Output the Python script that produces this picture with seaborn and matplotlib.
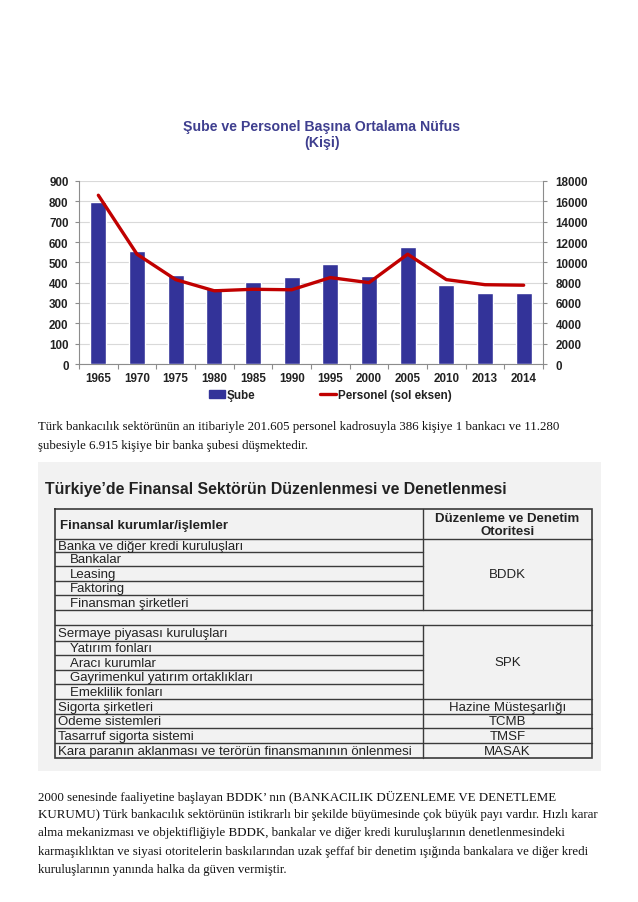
import numpy as np
import pandas as pd
import matplotlib
matplotlib.use("Agg")
import matplotlib.pyplot as plt
import seaborn as sns
from matplotlib.patches import Patch, Rectangle
from matplotlib.lines import Line2D
from matplotlib.ticker import FixedLocator

# ---------------- data ----------------
years = ['1965', '1970', '1975', '1980', '1985', '1990', '1995', '2000', '2005', '2010', '2013', '2014']
sube = [797, 558, 440, 375, 405, 430, 493, 432, 577, 390, 348, 347]
personel = [16600, 10800, 8300, 7200, 7350, 7300, 8500, 8000, 10800, 8300, 7800, 7750]

left_ticks = list(range(0, 901, 100))
right_ticks = list(range(0, 18001, 2000))

chart_title = "Şube ve Personel Başına Ortalama Nüfus\n(Kişi)"
legend_labels = ["Şube", "Personel (sol eksen)"]

para1 = ["Türk bankacılık sektörünün an itibariyle 201.605 personel kadrosuyla 386 kişiye 1 bankacı ve 11.280",
         "şubesiyle 6.915 kişiye bir banka şubesi düşmektedir."]
para2 = ["2000 senesinde faaliyetine başlayan BDDK’ nın (BANKACILIK DÜZENLEME VE DENETLEME",
         "KURUMU) Türk bankacılık sektörünün istikrarlı bir şekilde büyümesinde çok büyük payı vardır. Hızlı karar",
         "alma mekanizması ve objektifliğiyle BDDK, bankalar ve diğer kredi kuruluşlarının denetlenmesindeki",
         "karmaşıklıktan ve siyasi otoritelerin baskılarından uzak şeffaf bir denetim ışığında bankalara ve diğer kredi",
         "kuruluşlarının yanında halka da güven vermiştir."]

table_title = "Türkiye’de Finansal Sektörün Düzenlenmesi ve Denetlenmesi"
table_head = ["Finansal kurumlar/işlemler", "Düzenleme ve Denetim\nOtoritesi"]
table_rows = ["Banka ve diğer kredi kuruluşları", "Bankalar", "Leasing", "Faktoring", "Finansman şirketleri",
              "", "Sermaye piyasası kuruluşları", "Yatırım fonları", "Aracı kurumlar",
              "Gayrimenkul yatırım ortaklıkları", "Emeklilik fonları", "Sigorta şirketleri",
              "Ödeme sistemleri", "Tasarruf sigorta sistemi",
              "Kara paranın aklanması ve terörün finansmanının önlenmesi"]
table_indent = [0, 1, 1, 1, 1, 0, 0, 1, 1, 1, 1, 0, 0, 0, 0]
# authority: (label, first row, last row)
authorities = [("BDDK", 0, 4), ("SPK", 6, 10), ("Hazine Müsteşarlığı", 11, 11),
               ("TCMB", 12, 12), ("TMSF", 13, 13), ("MASAK", 14, 14)]

# ---------------- figure ----------------
W, H = 638, 903
sns.set_theme(style="white")
plt.rcParams['font.family'] = ['Liberation Sans', 'DejaVu Sans']
fig = plt.figure(figsize=(W / 100, H / 100), dpi=100)
fig.patch.set_facecolor("white")

# page layer (pixel coordinates)
page = fig.add_axes([0, 0, 1, 1], zorder=0)
page.set_xlim(0, W)
page.set_ylim(H, 0)
page.axis("off")

# ---------------- chart ----------------
L, R, T, B = 79, 543, 182, 365
ax = fig.add_axes([L / W, 1 - B / H, (R - L) / W, (B - T) / H], zorder=2)
ax.set_facecolor("none")
df = pd.DataFrame({"Yıl": years, "Şube": sube, "Personel": personel})
bar_col = "#333399"
line_col = "#c00000"
sns.barplot(data=df, x="Yıl", y="Şube", color=bar_col, saturation=1, width=0.41, ax=ax, zorder=3)
ax2 = ax.twinx()
sns.lineplot(data=df, x="Yıl", y="Personel", color=line_col, lw=2.4, ax=ax2, sort=False)

ax.set_xlim(-0.5, len(years) - 0.5)
ax.set_ylim(0, 900)
ax.set_yticks(left_ticks)
ax2.set_ylim(0, 18000)
ax2.set_yticks(right_ticks)
ax.set_xlabel("")
ax.set_ylabel("")
ax2.set_xlabel("")
ax2.set_ylabel("")
ax.yaxis.grid(True, color="#d9d9d9", lw=0.8)
ax.set_axisbelow(True)
spine_col = "#8c8c8c"
for a in (ax, ax2):
    a.spines["top"].set_visible(False)
ax.spines["right"].set_visible(False)
ax2.spines["left"].set_visible(False)
ax2.spines["bottom"].set_visible(False)
ax.spines["left"].set_color(spine_col)
ax.spines["bottom"].set_color(spine_col)
ax2.spines["right"].set_color(spine_col)
for s in (ax.spines["left"], ax.spines["bottom"], ax2.spines["right"]):
    s.set_linewidth(0.8)

fs_tick = 8.4
ax.xaxis.set_minor_locator(FixedLocator(np.arange(-0.5, len(years), 1.0)))
ax.tick_params(axis="x", which="major", length=0, pad=6, labelsize=fs_tick, labelcolor="#222222")
ax.tick_params(axis="x", which="minor", bottom=True, length=3.5, width=0.8, color=spine_col, direction="out")
ax.tick_params(axis="y", left=True, length=3, width=0.8, color=spine_col, pad=4.5, labelsize=fs_tick,
               labelcolor="#222222")
ax2.tick_params(axis="y", right=True, length=3, width=0.8, color=spine_col, pad=6, labelsize=fs_tick,
                labelcolor="#222222")
for lab in ax.get_xticklabels() + ax.get_yticklabels() + ax2.get_yticklabels():
    lab.set_fontweight("bold")

handles = [Patch(facecolor=bar_col, edgecolor=bar_col),
           Line2D([0], [0], color=line_col, lw=2.4)]
leg = ax.legend(handles, legend_labels, loc="center", ncol=2, frameon=False,
                bbox_to_anchor=(330 / W, 1 - 396 / H), bbox_transform=fig.transFigure,
                prop={"weight": "bold", "size": fs_tick}, columnspacing=5.5, handlelength=1.4,
                handletextpad=0.15, handleheight=0.7)
for t in leg.get_texts():
    t.set_color("#222222")

fig.text(322 / W, 1 - 135 / H, chart_title, ha="center", va="center", fontsize=10.2,
         fontweight="bold", color="#3f3f8f", linespacing=1.25)

# ---------------- paragraphs ----------------
serif = ["Liberation Serif", "DejaVu Serif"]
for i, line in enumerate(para1):
    page.text(38, 427 + i * 19, line, family=serif, fontsize=9.3, va="center", ha="left", color="#111111")
for i, line in enumerate(para2):
    page.text(38, 797 + i * 18.2, line, family=serif, fontsize=9.3, va="center", ha="left", color="#111111")

# ---------------- table box ----------------
page.add_patch(Rectangle((38, 463), 601 - 38, 772 - 463, facecolor="#f2f2f2", edgecolor="none"))
page.text(45, 490, table_title, fontsize=11.4, fontweight="bold", color="#222222", va="center", ha="left")

x0, xm, x1 = 55, 422.7, 592
ytop = 510
yb = [539.5, 553, 567, 581.5, 596, 610.5, 626, 641.7, 656, 670.7, 685.3, 700, 714.7, 729.3, 744, 758.7]
lc = "#3a3a3a"
lw = 1.0
fs_tab = 9.5

# header
page.text(60, (ytop + yb[0]) / 2 + 1, table_head[0], fontsize=fs_tab, fontweight="bold", color="#222222",
          va="center")
page.text((xm + x1) / 2, (ytop + yb[0]) / 2 + 0.5, table_head[1], fontsize=fs_tab, fontweight="bold",
          color="#222222", va="center", ha="center", linespacing=1.12)

# row texts
for i, (txt, ind) in enumerate(zip(table_rows, table_indent)):
    if not txt:
        continue
    page.text(58.5 + 11 * ind, (yb[i] + yb[i + 1]) / 2 + 0.5, txt, fontsize=fs_tab, color="#222222",
              va="center")

# authorities (merged cells)
for lab, r0, r1 in authorities:
    page.text((xm + x1) / 2, (yb[r0] + yb[r1 + 1]) / 2 + 0.5, lab, fontsize=fs_tab, color="#222222",
              va="center", ha="center")

# lines
page.plot([x0, x1, x1, x0, x0], [ytop, ytop, yb[-1], yb[-1], ytop], color=lc, lw=1.2, solid_joinstyle="miter")
page.plot([x0, x1], [yb[0], yb[0]], color=lc, lw=lw)
blank = table_rows.index("")
for i in range(1, len(yb) - 1):
    y = yb[i]
    right_break = any(r1 + 1 == i for _, _, r1 in authorities) or i == blank + 1
    page.plot([x0, x1 if right_break else xm], [y, y], color=lc, lw=lw)
page.plot([xm, xm], [ytop, yb[blank]], color=lc, lw=lw)
page.plot([xm, xm], [yb[blank + 1], yb[-1]], color=lc, lw=lw)

fig.savefig("out.png", dpi=100, facecolor="white")
